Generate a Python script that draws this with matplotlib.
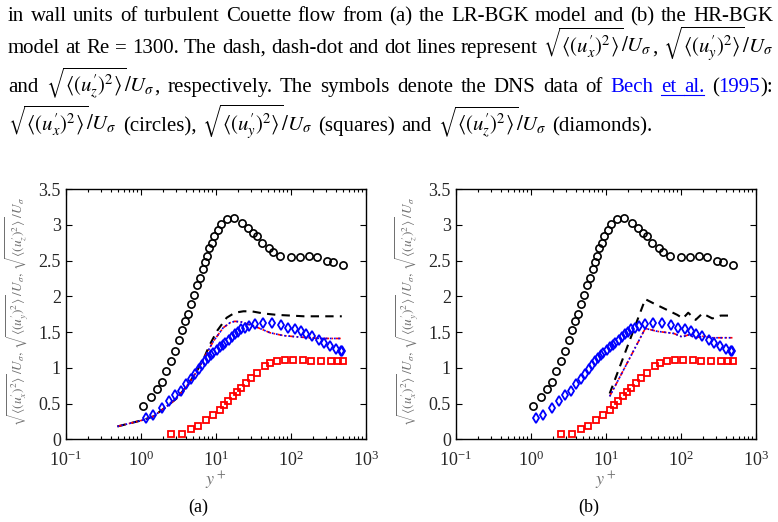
import numpy as np
import matplotlib
matplotlib.use('Agg')
import matplotlib.pyplot as plt
from matplotlib.ticker import FixedLocator, FormatStrFormatter, LogLocator, NullFormatter
from matplotlib.lines import Line2D

plt.rcParams['font.family'] = ['Liberation Serif', 'DejaVu Serif']
plt.rcParams['mathtext.fontset'] = 'stix'

# DNS data of Bech et al. (1995), same in both panels
dns_x_y = [1.08, 1.39, 1.63, 1.92, 2.2, 2.51, 2.9, 3.24, 3.6, 3.94, 4.28, 4.69, 5.09, 5.7,
           6.18, 6.7, 7.1, 7.7, 8.2, 8.85, 9.6, 10.6, 11.7, 14.3, 17.5, 22.7, 27, 31.8, 36,
           41.9, 52, 58.7, 72, 100, 132, 175, 222, 309, 372, 499]
dns_x_u = [0.46, 0.59, 0.71, 0.80, 0.95, 1.10, 1.23, 1.39, 1.53, 1.65, 1.75, 1.89, 2.02, 2.16,
           2.26, 2.38, 2.48, 2.57, 2.67, 2.74, 2.84, 2.93, 3.01, 3.08, 3.09, 3.03, 2.96, 2.89,
           2.84, 2.75, 2.67, 2.62, 2.57, 2.55, 2.55, 2.56, 2.55, 2.50, 2.48, 2.44]

dns_y_y = [2.53, 3.52, 4.74, 5.75, 7.5, 9.3, 11.4, 12.9, 14.8, 16.9, 19.2, 22, 25.4, 29.6,
           35.2, 45, 53, 66.4, 84, 107, 147, 185, 251, 341, 428, 504]
dns_y_u = [0.075, 0.075, 0.14, 0.18, 0.27, 0.34, 0.41, 0.48, 0.54, 0.61, 0.66, 0.72, 0.79,
           0.86, 0.93, 1.02, 1.07, 1.10, 1.11, 1.11, 1.11, 1.10, 1.10, 1.09, 1.10, 1.10]

dns_z_y = [1.19, 1.46, 1.92, 2.39, 2.9, 3.41, 4.02, 4.74, 5.36, 5.93, 6.58, 7.28, 7.9, 8.58,
           9.3, 10.3, 11.4, 12.4, 13.5, 14.9, 16.5, 17.9, 19.9, 22, 24.4, 27.5, 33.8, 42.4,
           55.8, 73.6, 92, 113, 136, 162, 192, 239, 278, 334, 402, 464, 490]
dns_z_u = [0.30, 0.34, 0.44, 0.53, 0.62, 0.68, 0.77, 0.85, 0.91, 0.98, 1.04, 1.10, 1.14, 1.18,
           1.21, 1.25, 1.29, 1.32, 1.35, 1.39, 1.43, 1.47, 1.50, 1.54, 1.56, 1.59, 1.61, 1.62,
           1.62, 1.60, 1.56, 1.54, 1.51, 1.47, 1.44, 1.39, 1.35, 1.31, 1.26, 1.24, 1.24]

# (a) LR-BGK
lr_x_y = [0.49, 1.08, 1.47, 2.22, 3.0, 4.1, 5.6, 7.2, 8.4, 10.5, 14, 18, 23.4, 30, 43, 65,
          100, 150, 250, 480]
lr_x_u = [0.18, 0.27, 0.32, 0.46, 0.57, 0.74, 0.95, 1.17, 1.33, 1.52, 1.70, 1.77, 1.79, 1.79,
          1.76, 1.74, 1.73, 1.72, 1.72, 1.72]
lr_yz_y = [0.49, 1.08, 1.47, 2.22, 3.0, 4.1, 5.6, 7.2, 9.3, 12.6, 15.5, 18, 22, 28.6, 35,
           53, 80, 129, 250, 480]
lr_yz_u = [0.18, 0.27, 0.32, 0.46, 0.57, 0.74, 0.95, 1.16, 1.37, 1.56, 1.63, 1.65, 1.64, 1.60,
           1.57, 1.49, 1.45, 1.43, 1.41, 1.41]

# (b) HR-BGK
hr_x_y = [11.3, 33.7, 43.6, 90, 107, 126, 158, 195, 264, 341, 490]
hr_x_u = [0.64, 1.96, 1.90, 1.74, 1.69, 1.77, 1.67, 1.76, 1.69, 1.73, 1.73]
hr_yz_y = [11.3, 33.7, 48.6, 81, 105, 126, 158, 195, 264, 490]
hr_yz_u = [0.60, 1.55, 1.51, 1.48, 1.43, 1.46, 1.42, 1.44, 1.42, 1.42]

yticks = [0, 0.5, 1, 1.5, 2, 2.5, 3, 3.5]

W, H = 778, 522
fig = plt.figure(figsize=(W / 100, H / 100), dpi=100)

ylab = (r"$\sqrt{\langle(u_x^{\prime})^2\rangle}\,/U_\sigma,\,\sqrt{\langle(u_y^{\prime})^2\rangle}\,/U_\sigma,"
        r"\,\sqrt{\langle(u_z^{\prime})^2\rangle}\,/U_\sigma$")


def panel(left, lines_x, lines_yz, tag):
    ax = fig.add_axes([left / W, 1 - 439.3 / H, 300 / W, 250.3 / H])
    ax.plot(lines_x[0], lines_x[1], color='black', ls=(0, (4, 3)), lw=1.5)
    ax.plot(lines_yz[0], lines_yz[1], color='red', ls=(0, (3, 1.5, 1, 1.5)), lw=1.2)
    ax.plot(lines_yz[0], lines_yz[1], color='blue', ls=(0, (1, 1.5)), lw=1.2)
    ax.plot(dns_x_y, dns_x_u, 'o', mfc='none', mec='black', ms=5.2, mew=1.2)
    ax.plot(dns_y_y, dns_y_u, 's', mfc='none', mec='red', ms=4.2, mew=1.3)
    ax.plot(dns_z_y, dns_z_u, 'd', mfc='none', mec='blue', ms=5.6, mew=1.3)
    ax.set_xscale('log')
    ax.set_xlim(0.1, 1000)
    ax.set_ylim(0, 3.5)
    ax.xaxis.set_major_locator(LogLocator(base=10, numticks=10))
    ax.xaxis.set_minor_locator(LogLocator(base=10, subs=np.arange(2, 10), numticks=10))
    ax.xaxis.set_minor_formatter(NullFormatter())
    ax.yaxis.set_major_locator(FixedLocator(yticks))
    ax.yaxis.set_major_formatter(FormatStrFormatter('%g'))
    ax.tick_params(which='both', direction='in', top=True, right=True, labelsize=13,
                   labelcolor='#262626', width=0.8)
    ax.tick_params(which='major', length=4)
    ax.tick_params(which='minor', length=2)
    ax.tick_params(axis='x', pad=8)
    for s in ax.spines.values():
        s.set_linewidth(1.0)
    ax.set_xlabel('$y^+$', fontsize=13, color='#707070', labelpad=0)
    ax.set_ylabel(ylab, fontsize=9.6, color='#707070')
    ax.yaxis.set_label_coords(-0.12, 0.51)
    fig.text((left + 133) / W, 1 - 507 / H, tag, fontsize=13, ha='center', va='center')
    return ax


panel(65.7, (lr_x_y, lr_x_u), (lr_yz_y, lr_yz_u), '(a)')
panel(455.7, (hr_x_y, hr_x_u), (hr_yz_y, hr_yz_u), '(b)')

# caption
cap_size = 15
sx = r"$\sqrt{\langle(u_x^{\prime})^2\rangle}/U_\sigma$"
sy = r"$\sqrt{\langle(u_y^{\prime})^2\rangle}/U_\sigma$"
sz = r"$\sqrt{\langle(u_z^{\prime})^2\rangle}/U_\sigma$"
K, B = 'black', 'blue'

# each entry: words, baseline (px from top), right end (None = natural spacing)
cap_lines = [
    ([[(w, K)] for w in "in wall units of turbulent Couette flow from (a) the LR-BGK model and (b) the HR-BGK".split()], 21, 773),
    ([[(w, K)] for w in "model at Re = 1300. The dash, dash-dot and dot lines represent".split()]
     + [[(sx, K), (',', K)], [(sy, K)]], 53, 773),
    ([[('and', K)], [(sz, K), (',', K)]]
     + [[(w, K)] for w in "respectively. The symbols denote the DNS data of".split()]
     + [[('Bech', B)], [('et', B)], [('al.', B)], [('(', K), ('1995', B), ('):', K)]], 92, 773),
    ([[(sx, K)], [('(circles),', K)], [(sy, K)], [('(squares)', K)], [('and', K)], [(sz, K)],
      [('(diamonds).', K)]], 131, None),
]

renderer = fig.canvas.get_renderer()
x_start = 8
for words, base, x_end in cap_lines:
    items = []
    widths = []
    for word in words:
        pieces = []
        wsum = 0
        for txt, col in word:
            t = fig.text(0, 1 - base / H, txt, fontsize=cap_size, color=col, va='baseline')
            bb = t.get_window_extent(renderer)
            pieces.append((t, bb.width))
            wsum += bb.width
        items.append(pieces)
        widths.append(wsum)
    if x_end is None:
        gap = 6
    else:
        gap = (x_end - x_start - sum(widths)) / (len(widths) - 1)
    x = x_start
    for i, pieces in enumerate(items):
        x0 = x
        for t, w in pieces:
            t.set_x(x / W)
            x += w
        word_txt = ''.join(p.get_text() for p, _ in pieces)
        if word_txt in ('et', 'al.'):
            ul_end = x if word_txt == 'al.' else x + gap
            fig.add_artist(Line2D([x0 / W, ul_end / W], [1 - (base + 3) / H] * 2,
                                  color=B, lw=0.8, transform=fig.transFigure))
        x += gap

fig.savefig('out.png', dpi=100)
